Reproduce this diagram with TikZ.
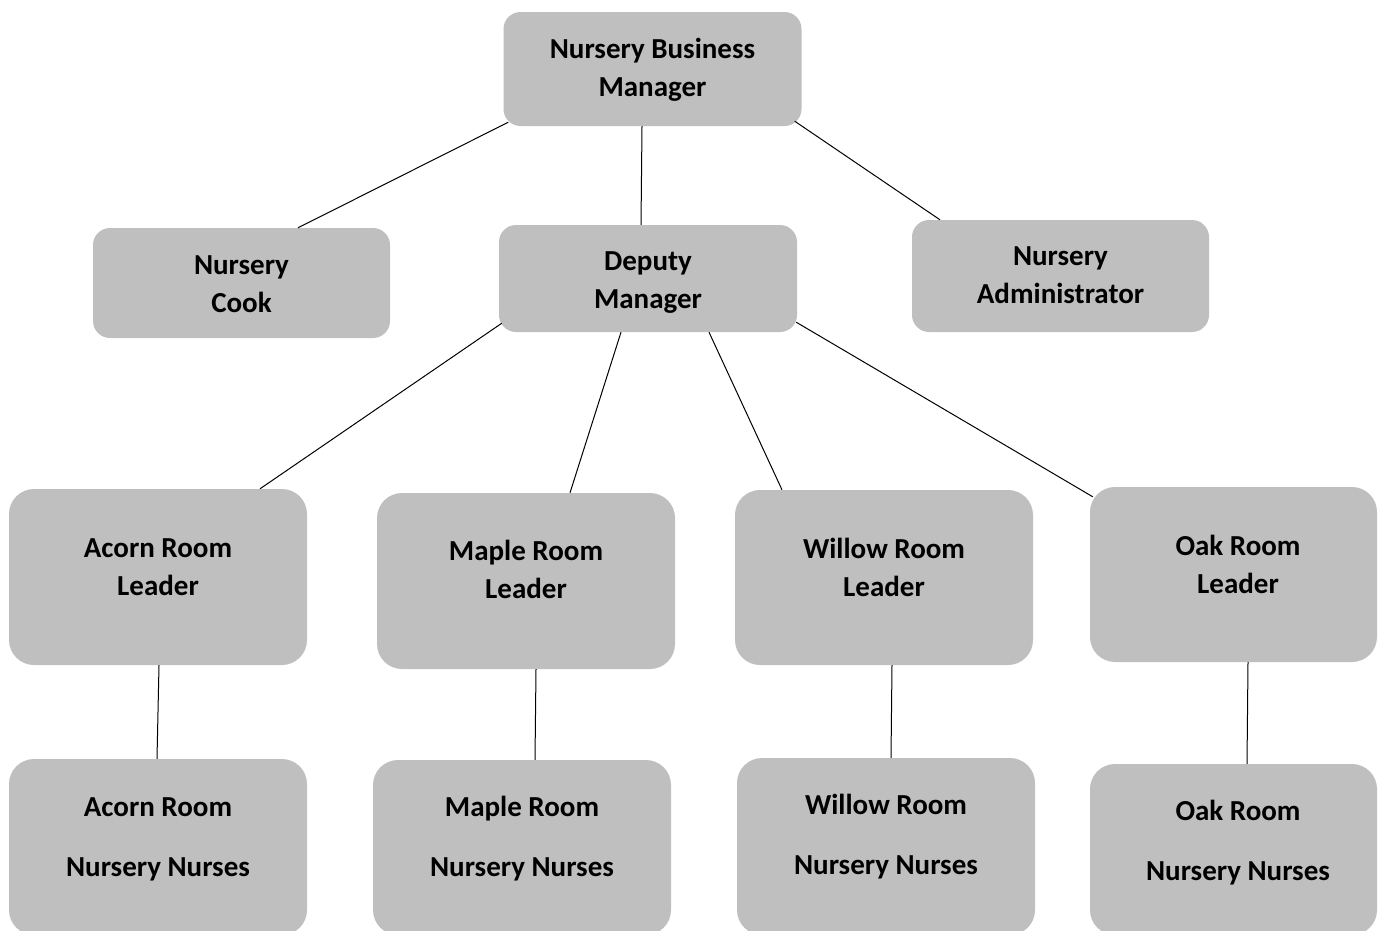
\documentclass[tikz,border=0pt]{standalone}
\usepackage{fontspec}
\setmainfont{Carlito}
\definecolor{boxgray}{RGB}{191,191,191}

\begin{document}
\begin{tikzpicture}[x=1pt,y=-1pt,
    topbox/.style={fill=boxgray, rounded corners=17pt, inner sep=0pt, minimum width=298pt},
    roombox/.style={fill=boxgray, rounded corners=25pt, inner sep=0pt, minimum width=298pt},
    txt/.style={font=\bfseries\fontsize{29}{38}\selectfont, align=center, text=black, inner sep=0pt},
    link/.style={line width=1pt}]
    % Page frame
    \useasboundingbox (0,0) rectangle (1378,930);

    % Top level
    \node[topbox, minimum height=114pt, label={[txt,yshift=-1pt]center:{Nursery Business\\Manager}}] (bm) at (652.5,69) {};

    % Second level
    \node[topbox, minimum width=297pt, minimum height=110pt, label={[txt,yshift=-1pt]center:{Nursery\\Cook}}] (cook) at (241.5,283) {};
    \node[topbox, minimum height=107pt, label={[txt,yshift=-4.5pt]center:{Deputy\\Manager}}] (dep) at (648,278.5) {};
    \node[topbox, minimum width=297pt, minimum height=112pt, label={[txt,yshift=1pt]center:{Nursery\\Administrator}}] (adm) at (1060.5,276) {};

    % Room leaders
    \node[roombox, minimum height=176pt, label={[txt,yshift=10pt]center:{Acorn Room\\Leader}}] (acornL) at (158,577) {};
    \node[roombox, minimum height=176pt, label={[txt,yshift=11.5pt]center:{Maple Room\\Leader}}] (mapleL) at (526,581) {};
    \node[roombox, minimum height=175pt, label={[txt,yshift=10pt]center:{Willow Room\\Leader}}] (willowL) at (884,577.5) {};
    \node[roombox, minimum width=287pt, minimum height=175pt, label={[txt,xshift=4.5pt,yshift=10pt]center:{Oak Room\\Leader}}] (oakL) at (1233.5,574.5) {};

    % Nursery nurses
    \node[roombox, minimum height=176pt, label={[txt,yshift=8pt]center:{Acorn Room\\[22pt]Nursery Nurses}}] (acornN) at (158,847) {};
    \node[roombox, minimum height=175pt, label={[txt,yshift=8.5pt]center:{Maple Room\\[22pt]Nursery Nurses}}] (mapleN) at (522,847.5) {};
    \node[roombox, minimum height=177pt, label={[txt,yshift=9.5pt]center:{Willow Room\\[22pt]Nursery Nurses}}] (willowN) at (886,846.5) {};
    \node[roombox, minimum width=287pt, minimum height=171pt, label={[txt,xshift=4.5pt,yshift=6.5pt]center:{Oak Room\\[22pt]Nursery Nurses}}] (oakN) at (1233.5,849.5) {};

    % Links from the business manager
    \draw[link] ([xshift=5pt,yshift=4pt]bm.south west) -- ([xshift=56.5pt]cook.north);
    \draw[link] ([xshift=-10.5pt]bm.south) -- ([xshift=-7pt]dep.north);
    \draw[link] ([xshift=-7pt,yshift=5pt]bm.south east) -- ([xshift=-120.5pt]adm.north);

    % Links from the deputy
    \draw[link] ([xshift=3pt,yshift=9pt]dep.south west) -- ([xshift=102pt]acornL.north);
    \draw[link] ([xshift=-27pt]dep.south) -- ([xshift=44pt]mapleL.north);
    \draw[link] ([xshift=61pt]dep.south) -- ([xshift=-102pt]willowL.north);
    \draw[link] ([xshift=-1pt,yshift=10pt]dep.south east) -- ([xshift=3pt,yshift=-10pt]oakL.north west);

    % Leaders to their nurses
    \draw[link] ([xshift=1pt]acornL.south) -- ([xshift=-1pt]acornN.north);
    \draw[link] ([xshift=10pt]mapleL.south) -- ([xshift=13pt]mapleN.north);
    \draw[link] ([xshift=8pt]willowL.south) -- ([xshift=5pt]willowN.north);
    \draw[link] ([xshift=14.5pt]oakL.south) -- ([xshift=13.5pt]oakN.north);

\end{tikzpicture}
\end{document}
